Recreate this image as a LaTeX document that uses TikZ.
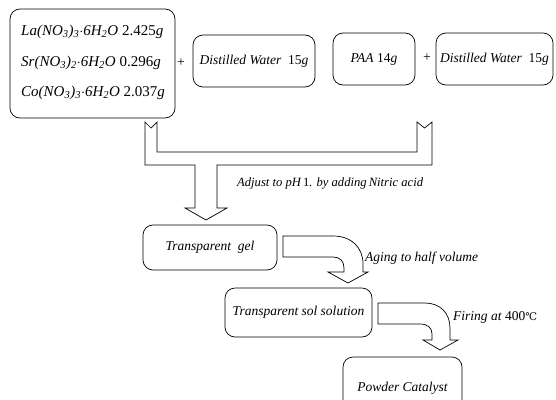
\documentclass[tikz,border=0pt]{standalone}
\usepackage{fontspec}
\setmainfont{Liberation Serif}
\newfontfamily\dejavu{DejaVu Serif}
\begin{document}
\begin{tikzpicture}[x=1pt,y=-1pt,
  box/.style={draw, rounded corners=10pt, line width=0.7pt, fill=white, inner sep=0pt},
  txt/.style={font=\fontsize{13.5}{16}\selectfont\itshape, inner sep=0pt},
  formula/.style={font=\fontsize{15}{18}\selectfont\itshape, inner sep=0pt},
  small/.style={font=\fontsize{12.6}{15}\selectfont\itshape, inner sep=0pt},
  barrow/.style={draw, line width=0.7pt, fill=white, line join=miter}]
\clip (0,0) rectangle (556,399);
\fill[white] (0,0) rectangle (556,399);
% top boxes
\node[box, minimum width=165pt, minimum height=109pt] (salts) at (92.5,63.5) {};
\node[formula, anchor=west] (la) at (21,32) {La(NO\textsubscript{3})\textsubscript{3}$\cdot$6H\textsubscript{2}O\ \textup{2.425}g};
\node[formula, anchor=west] (sr) at (21,63) {Sr(NO\textsubscript{3})\textsubscript{2}$\cdot$6H\textsubscript{2}O\ \textup{0.296}g};
\node[formula, anchor=west] (co) at (21,93) {Co(NO\textsubscript{3})\textsubscript{3}$\cdot$6H\textsubscript{2}O\ \textup{2.037}g};
\node[txt] (plus1) at (181,63) {+};
\node[box, txt, minimum width=122pt, minimum height=52pt] (water1) at (254,61) {Distilled Water\ \ \textup{15}g};
\node[box, txt, minimum width=82pt, minimum height=52pt] (paa) at (374,59) {PAA \textup{14}g};
\node[txt] (plus2) at (427,58) {+};
\node[box, txt, minimum width=117pt, minimum height=52pt] (water2) at (494.5,59) {Distilled Water\ \ \textup{15}g};
% merging block arrow
\draw[barrow] (145,122) -- (151,128) -- (157,122) -- (157,152) -- (417,152) -- (417,122)
  -- (424.5,128) -- (432,122) -- (432,165) -- (217,165) -- (217,208) -- (227,208)
  -- (206,220) -- (185,208) -- (195,208) -- (195,165) -- (145,165) -- cycle;
\node[small, anchor=west] (adjust) at (237,183) {Adjust to pH\,\textup{1}. by adding\,Nitric acid};
% gel
\node[box, txt, minimum width=134pt, minimum height=45pt] (gel) at (210,247.5) {Transparent\ \ gel};
\draw[barrow] (283,236) -- (333,236) .. controls (352,236) and (363,248) .. (363,264)
  -- (363,272) -- (368,272) -- (348,283) -- (328,272) -- (344,272) -- (344,268)
  .. controls (344,261) and (340,257) .. (333,257) -- (283,257) -- cycle;
\node[txt, anchor=west] (aging) at (365,258) {Aging to half volume};
% sol
\node[box, txt, minimum width=147pt, minimum height=49pt] (sol) at (298.5,312.5) {Transparent sol solution};
\draw[barrow] (378,303) -- (425,303) .. controls (440,303) and (450,313) .. (450,328)
  -- (450,340) -- (458,340) -- (440,350) -- (423,340) -- (432,340) -- (432,334)
  .. controls (432,328) and (428,324) .. (420,324) -- (378,324) -- cycle;
\node[txt, anchor=west] (firing) at (453,317) {Firing at \textup{400}{\dejavu\upshape\fontsize{10.5}{12}\selectfont ℃}};
% powder
\node[box, txt, minimum width=119pt, minimum height=63pt] (powder) at (402.5,388.5) {Powder Catalyst};
\end{tikzpicture}
\end{document}
